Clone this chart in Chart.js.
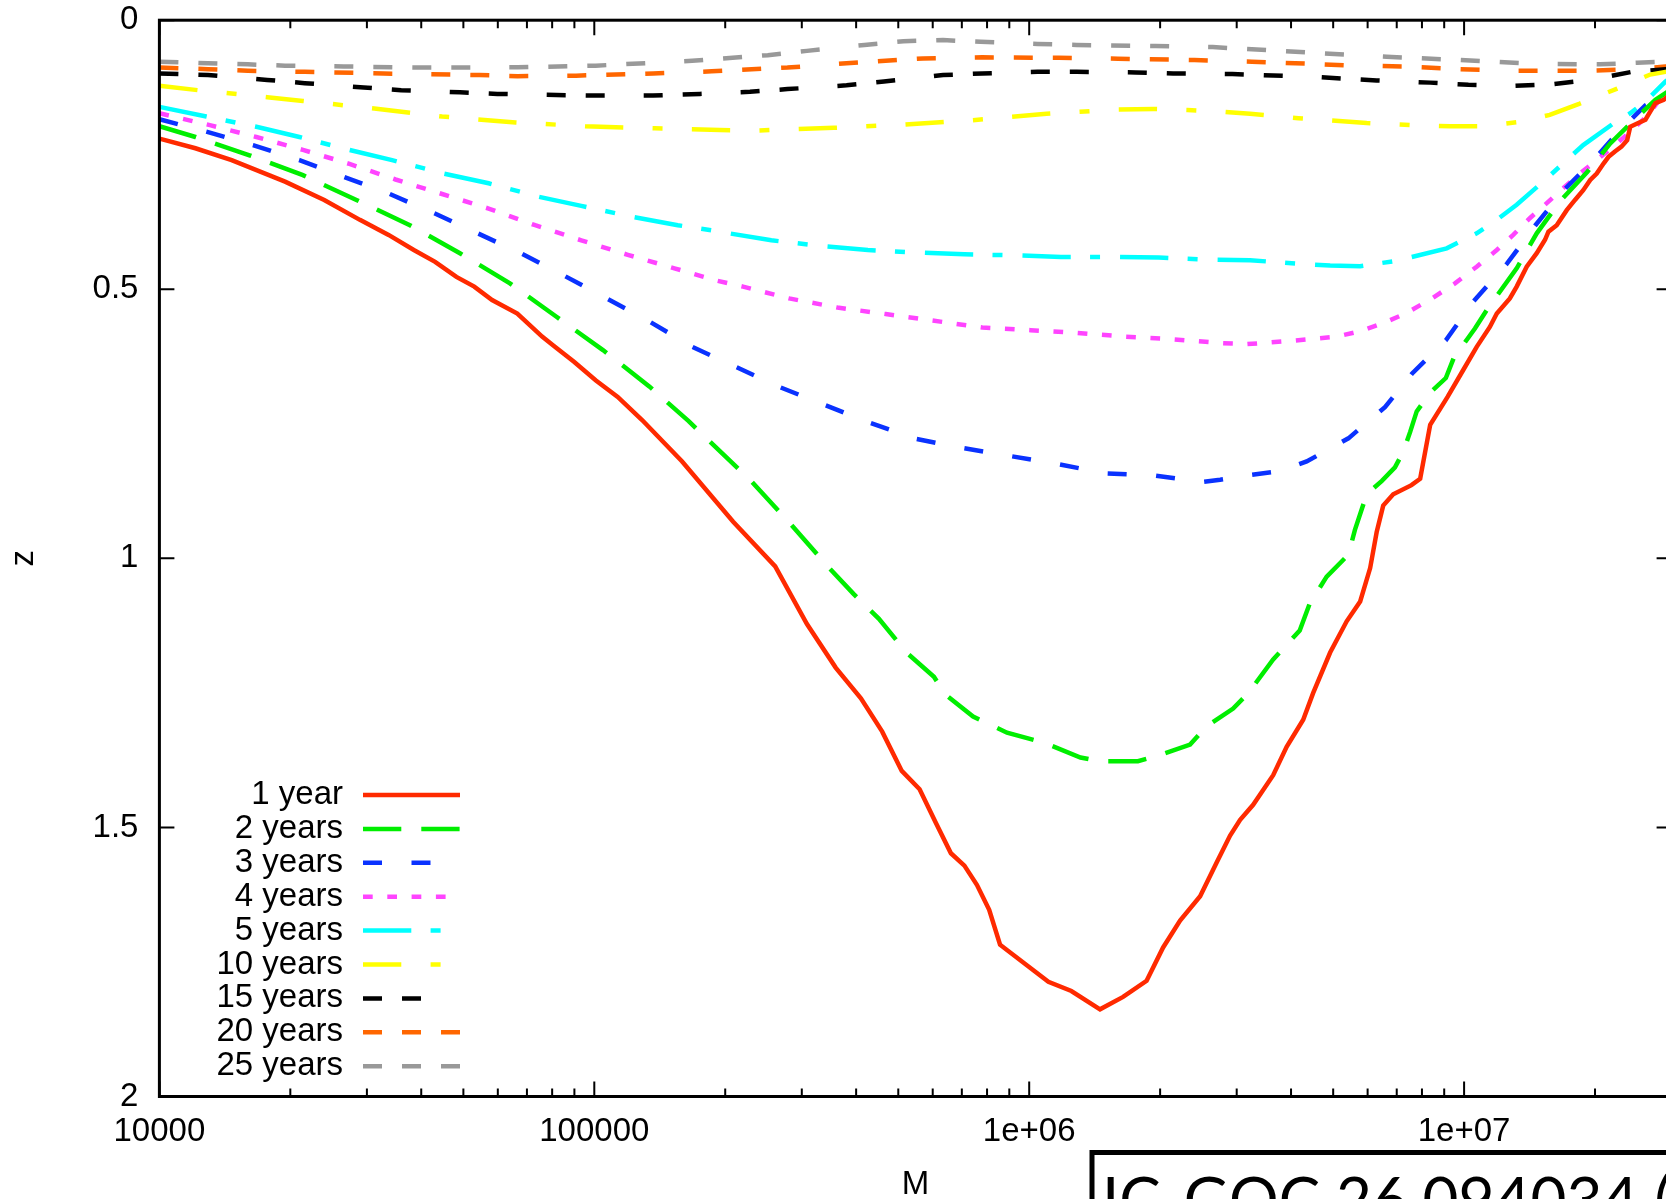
<!DOCTYPE html>
<html>
<head>
<meta charset="utf-8">
<script src="https://cdn.jsdelivr.net/npm/chart.js@4.4.1/dist/chart.umd.min.js"></script>
<style>
  html, body { margin: 0; padding: 0; background: #fff; overflow: hidden; }
  #wrap { position: absolute; left: 0; top: 0; width: 1700px; height: 1199px; }
</style>
</head>
<body>
<div id="wrap"><canvas id="zChart" width="1700" height="1199"></canvas></div>
<script>
// x tick values / labels (log axis)
const xTickValues = [1e4, 1e5, 1e6, 1e7];
const xTickLabels = ['10000', '100000', '1e+06', '1e+07'];
const yTickValues = [0, 0.5, 1, 1.5, 2];

const seriesLabels = ['1 year', '2 years', '3 years', '4 years', '5 years', '10 years', '15 years', '20 years', '25 years'];

// [M, z]
const year1 = [[10000,0.220],[12100,0.238],[14660,0.260],[19450,0.300],[23930,0.334],[28910,0.371],[33650,0.399],[38460,0.427],[43050,0.449],[48190,0.477],[52970,0.495],[58210,0.520],[66530,0.545],[75860,0.588],[80350,0.604],[89950,0.635],[100700,0.669],[113200,0.700],[128800,0.743],[159200,0.820],[208600,0.932],[260600,1.015],[308300,1.122],[358900,1.203],[410200,1.260],[459200,1.322],[509300,1.395],[559800,1.429],[609500,1.491],[660700,1.548],[709600,1.571],[758600,1.607],[809100,1.653],[857000,1.718],[1107000,1.787],[1250000,1.804],[1455000,1.838],[1644000,1.815],[1862000,1.785],[2032000,1.723],[2223000,1.673],[2472000,1.628],[2698000,1.565],[2897000,1.515],[3055000,1.486],[3273000,1.458],[3639000,1.403],[3908000,1.350],[4266000,1.300],[4498000,1.250],[4920000,1.175],[5370000,1.117],[5768000,1.080],[6081000,1.018],[6295000,0.951],[6516000,0.902],[6871000,0.881],[7568000,0.864],[7925000,0.852],[8356000,0.752],[9162000,0.700],[9954000,0.650],[10690000,0.607],[11460000,0.570],[11890000,0.545],[12740000,0.517],[13210000,0.495],[13930000,0.458],[14690000,0.433],[15350000,0.408],[15630000,0.393],[16330000,0.381],[17220000,0.353],[17990000,0.334],[18790000,0.316],[19500000,0.297],[20180000,0.285],[20940000,0.266],[21480000,0.254],[22230000,0.244],[23010000,0.235],[23710000,0.223],[24100000,0.198],[25000000,0.192],[26120000,0.185],[26790000,0.170],[27540000,0.154],[28770000,0.148],[30000000,0.135]];

const years2 = [[10000,0.197],[12100,0.217],[16110,0.251],[21380,0.288],[28380,0.334],[37670,0.381],[49090,0.433],[63970,0.489],[81850,0.551],[104700,0.613],[134000,0.681],[164800,0.745],[181600,0.778],[228000,0.854],[280500,0.933],[345900,1.017],[394500,1.066],[450800,1.112],[523600,1.176],[603900,1.220],[639700,1.252],[743000,1.294],[889200,1.324],[1086000,1.343],[1312000,1.370],[1455000,1.377],[1778000,1.377],[1972000,1.367],[2344000,1.346],[2559000,1.312],[2944000,1.279],[3192000,1.250],[3639000,1.188],[4188000,1.134],[4416000,1.084],[4831000,1.034],[5420000,0.993],[5610000,0.947],[5970000,0.881],[6471000,0.856],[6934000,0.831],[7244000,0.802],[7516000,0.765],[7780000,0.727],[8356000,0.692],[9078000,0.665],[9462000,0.628],[9954000,0.603],[10590000,0.573],[11350000,0.535],[13210000,0.461],[14690000,0.396],[16600000,0.337],[19190000,0.282],[21680000,0.229],[24550000,0.186],[27540000,0.148],[30000000,0.128]];

const years3 = [[10000,0.184],[12820,0.207],[16410,0.232],[20990,0.260],[26550,0.291],[33650,0.322],[42660,0.358],[53950,0.396],[67760,0.433],[84920,0.474],[106700,0.517],[134000,0.560],[167900,0.607],[211300,0.644],[265500,0.681],[338800,0.715],[429500,0.748],[549500,0.778],[703100,0.795],[905700,0.810],[1167000,0.825],[1496000,0.842],[1932000,0.846],[2495000,0.858],[2748000,0.854],[3221000,0.845],[3776000,0.838],[4345000,0.820],[5420000,0.777],[6577000,0.719],[7586000,0.657],[9078000,0.595],[10500000,0.523],[12560000,0.452],[14590000,0.381],[16940000,0.316],[19860000,0.260],[22490000,0.210],[26120000,0.158],[28770000,0.139],[30000000,0.124]];

const years4 = [[10000,0.173],[13060,0.195],[16710,0.217],[21380,0.241],[27350,0.267],[34910,0.296],[44670,0.323],[57150,0.350],[73110,0.381],[93330,0.409],[119400,0.436],[152800,0.461],[191400,0.484],[219800,0.495],[280500,0.517],[362200,0.534],[467700,0.546],[598400,0.558],[779800,0.571],[1007000,0.576],[1285000,0.581],[1660000,0.588],[2143000,0.593],[2767000,0.600],[3162000,0.602],[3981000,0.596],[5093000,0.588],[5768000,0.578],[6516000,0.563],[7379000,0.544],[8433000,0.517],[9528000,0.489],[10690000,0.458],[11890000,0.427],[12970000,0.399],[14160000,0.368],[15490000,0.340],[16900000,0.312],[18450000,0.285],[20180000,0.260],[22030000,0.235],[24100000,0.207],[26360000,0.178],[30000000,0.118]];

const years5 = [[10000,0.161],[12820,0.179],[16710,0.198],[20990,0.217],[27350,0.241],[34280,0.260],[45080,0.285],[57150,0.303],[74470,0.328],[93330,0.345],[121600,0.365],[155600,0.381],[177800,0.388],[255300,0.409],[335700,0.420],[425600,0.427],[559800,0.432],[709600,0.435],[933300,0.437],[1183000,0.440],[1556000,0.440],[1986000,0.441],[2588000,0.445],[3221000,0.446],[4385000,0.454],[4920000,0.456],[5768000,0.457],[6998000,0.447],[9120000,0.424],[10690000,0.396],[11890000,0.371],[13210000,0.343],[15490000,0.294],[16900000,0.266],[18790000,0.232],[22030000,0.192],[24100000,0.173],[26360000,0.148],[29040000,0.114],[30000000,0.106]];

const years10 = [[10000,0.122],[12250,0.130],[17700,0.143],[21380,0.150],[31190,0.164],[44670,0.179],[65920,0.190],[95280,0.197],[137700,0.201],[194500,0.204],[236600,0.205],[355600,0.200],[514000,0.194],[736200,0.186],[1096000,0.174],[1585000,0.166],[1932000,0.165],[2312000,0.167],[2767000,0.170],[3221000,0.174],[4159000,0.182],[5970000,0.191],[7656000,0.195],[9290000,0.197],[11070000,0.197],[13430000,0.189],[15740000,0.176],[18450000,0.155],[22490000,0.127],[24550000,0.114],[26790000,0.101],[29040000,0.096],[30000000,0.094]];

const years15 = [[10000,0.099],[12940,0.102],[17700,0.111],[21580,0.117],[29510,0.125],[35970,0.130],[49090,0.134],[59840,0.137],[81850,0.139],[100000,0.140],[136500,0.140],[175000,0.137],[228000,0.133],[278000,0.128],[380200,0.121],[463400,0.114],[633900,0.102],[779800,0.099],[1045000,0.096],[1285000,0.096],[1758000,0.097],[2143000,0.099],[2931000,0.100],[3428000,0.102],[4667000,0.106],[6295000,0.112],[8356000,0.116],[10230000,0.120],[12970000,0.122],[15920000,0.119],[19500000,0.111],[24320000,0.096],[29040000,0.091],[30000000,0.090]];

const years20 = [[10000,0.088],[12940,0.091],[15960,0.094],[21580,0.096],[32730,0.099],[54450,0.102],[66530,0.104],[90780,0.103],[136500,0.099],[186200,0.095],[278000,0.088],[380200,0.080],[570200,0.071],[779800,0.069],[1169000,0.070],[1600000,0.0715],[2399000,0.074],[3251000,0.077],[4426000,0.081],[5370000,0.084],[7311000,0.086],[9795000,0.091],[12970000,0.094],[18790000,0.094],[25000000,0.091],[29040000,0.086],[30000000,0.085]];

const years25 = [[10000,0.077],[12940,0.080],[15960,0.082],[19450,0.0845],[26550,0.086],[39900,0.088],[66530,0.0876],[100700,0.0845],[167900,0.0753],[250600,0.065],[308300,0.057],[417800,0.046],[514000,0.039],[633900,0.037],[772700,0.040],[1045000,0.044],[1285000,0.046],[1950000,0.048],[2642000,0.050],[3251000,0.054],[4385000,0.060],[6637000,0.068],[9795000,0.074],[14690000,0.081],[20560000,0.082],[25000000,0.079],[29040000,0.077],[30000000,0.077]];

const seriesData = [year1, years2, years3, years4, years5, years10, years15, years20, years25];

// line styles, gnuplot-like
const seriesColors = ['#ff2a00', '#00ee00', '#0a32ff', '#ff44ff', '#00ffff', '#ffff00', '#000000', '#ff6600', '#999999'];
const seriesDashes = [
    [],
    [38.3, 20],
    [19, 29.5],
    [9.7, 14.6],
    [48.3, 19.3, 10, 20],
    [38.3, 29.3, 10, 29.3],
    [19, 20, 19, 39],
    [19, 20, 19, 20, 19, 39],
    [19, 20, 19, 20, 19, 20, 19, 39]
];

const FONT = "'Liberation Sans', Arial, Helvetica, sans-serif";

// border + inward ticks on all four sides
const framePlugin = {
    id: 'frame',
    afterDatasetsDraw(chart) {
        const { ctx, chartArea: a, scales: { x, y } } = chart;
        ctx.save();
        ctx.strokeStyle = '#000';
        ctx.lineWidth = 2;
        ctx.beginPath();
        for (const d of xTickValues) {
            for (let k = 1; k <= 9; k++) {
                const v = d * k;
                if (v > 3e7) break;
                const len = k === 1 ? 15 : 8;
                const px = x.getPixelForValue(v);
                ctx.moveTo(px, a.bottom); ctx.lineTo(px, a.bottom - len);
                ctx.moveTo(px, a.top); ctx.lineTo(px, a.top + len);
            }
        }
        for (const v of yTickValues) {
            const py = y.getPixelForValue(v);
            ctx.moveTo(a.left, py); ctx.lineTo(a.left + 15, py);
            ctx.moveTo(a.right, py); ctx.lineTo(a.right - 15, py);
        }
        ctx.stroke();
        ctx.lineWidth = 3;
        ctx.strokeRect(a.left, a.top, a.right - a.left, a.bottom - a.top);
        ctx.restore();
    }
};

// key in the lower left, text right aligned then the line sample
const keyPlugin = {
    id: 'key',
    afterDatasetsDraw(chart) {
        const { ctx } = chart;
        ctx.save();
        ctx.font = '33px ' + FONT;
        ctx.textAlign = 'right';
        ctx.textBaseline = 'middle';
        chart.data.datasets.forEach((ds, i) => {
            const yy = 795 + i * 33.9;
            ctx.fillStyle = '#000';
            ctx.fillText(ds.label, 343, yy);
            ctx.strokeStyle = ds.borderColor;
            ctx.lineWidth = ds.borderWidth;
            ctx.setLineDash(ds.borderDash);
            ctx.beginPath();
            ctx.moveTo(363, yy);
            ctx.lineTo(460, yy);
            ctx.stroke();
        });
        ctx.restore();
    }
};

// caption box partly cut by the picture edge
const captionPlugin = {
    id: 'caption',
    afterDraw(chart) {
        const { ctx } = chart;
        ctx.save();
        ctx.fillStyle = '#fff';
        ctx.fillRect(1092, 1152, 700, 100);
        ctx.strokeStyle = '#000';
        ctx.lineWidth = 5;
        ctx.strokeRect(1092, 1152.5, 700, 200);
        ctx.fillStyle = '#000';
        ctx.font = "62px Lato, 'Open Sans', sans-serif";
        ctx.textAlign = 'left';
        ctx.textBaseline = 'alphabetic';
        ctx.fillText('IC-GOC 26.094034 (', 1102, 1222);
        ctx.restore();
    }
};

const datasets = seriesData.map((pts, i) => ({
    label: seriesLabels[i],
    data: pts.map(p => ({ x: p[0], y: p[1] })),
    borderColor: seriesColors[i],
    borderWidth: 4.5,
    borderDash: seriesDashes[i],
    borderCapStyle: 'butt',
    pointRadius: 0,
    fill: false,
    tension: 0
}));

new Chart(document.getElementById('zChart'), {
    type: 'line',
    data: { datasets },
    options: {
        responsive: false,
        animation: false,
        devicePixelRatio: 1,
        layout: { padding: { top: 20.2, right: 28.4, bottom: 0, left: 0 } },
        plugins: {
            legend: { display: false },
            tooltip: { enabled: false }
        },
        scales: {
            x: {
                type: 'logarithmic',
                min: 1e4,
                max: 3e7,
                grid: { display: false, drawTicks: false },
                border: { display: false },
                afterBuildTicks: (s) => { s.ticks = xTickValues.map(v => ({ value: v })); },
                afterFit: (s) => { s.height = 102.5; s.paddingLeft = 0; s.paddingRight = 0; },
                ticks: {
                    autoSkip: false,
                    maxRotation: 0,
                    padding: 16,
                    color: '#000',
                    font: { family: FONT, size: 33 },
                    callback: (v) => xTickLabels[xTickValues.indexOf(v)] ?? ''
                },
                title: {
                    display: true,
                    text: 'M',
                    color: '#000',
                    font: { family: FONT, size: 33, lineHeight: 1 },
                    padding: { top: 0, bottom: -2 }
                }
            },
            y: {
                type: 'linear',
                reverse: true,
                min: 0,
                max: 2,
                grid: { display: false, drawTicks: false },
                border: { display: false },
                afterBuildTicks: (s) => { s.ticks = yTickValues.map(v => ({ value: v })); },
                afterFit: (s) => { s.width = 159.4; s.paddingTop = 0; s.paddingBottom = 0; },
                ticks: {
                    padding: 21,
                    color: '#000',
                    font: { family: FONT, size: 33 },
                    callback: (v) => String(v)
                },
                title: {
                    display: true,
                    text: 'z',
                    color: '#000',
                    font: { family: FONT, size: 33, lineHeight: 1 },
                    padding: { top: 7, bottom: 0 }
                }
            }
        }
    },
    plugins: [framePlugin, keyPlugin, captionPlugin]
});
</script>
</body>
</html>
